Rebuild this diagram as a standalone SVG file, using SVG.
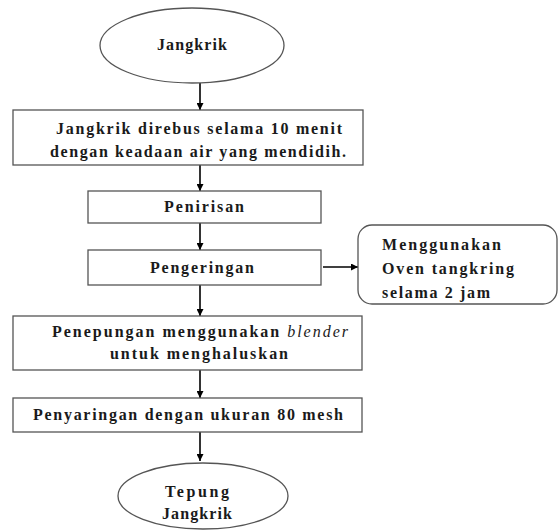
<svg xmlns="http://www.w3.org/2000/svg" width="558" height="530" viewBox="0 0 558 530">
<defs>
<marker id="ah" viewBox="0 0 10 10" refX="10" refY="5" markerWidth="7" markerHeight="7" orient="auto" markerUnits="userSpaceOnUse">
<path d="M0,0 L10,5 L0,10 z" fill="#000"/>
</marker>
<style>
.shape{fill:#fff;stroke:#555;stroke-width:1.3}
.t{font-weight:bold;font-size:16px;fill:#1a1a1a}
.c{text-anchor:middle}
.conn{stroke:#000;stroke-width:1.6;fill:none;marker-end:url(#ah)}
</style>
</defs>
<rect width="558" height="530" fill="#fff"/>
<g id="connectors">
<line class="conn" x1="200" y1="83" x2="200" y2="110"/>
<line class="conn" x1="200" y1="165" x2="200" y2="191"/>
<line class="conn" x1="200" y1="223" x2="200" y2="250"/>
<line class="conn" x1="200" y1="285" x2="200" y2="316"/>
<line class="conn" x1="200" y1="370" x2="200" y2="398"/>
<line class="conn" x1="200" y1="432" x2="200" y2="461"/>
<line class="conn" x1="323" y1="267" x2="358" y2="267"/>
</g>
<g font-family="Liberation Serif, Times New Roman, serif">
<g id="n1">
<ellipse class="shape" cx="192" cy="45.5" rx="92" ry="37.5"/>
<text class="t c" x="192" y="50" textLength="70" lengthAdjust="spacing">Jangkrik</text>
</g>
<g id="n2">
<rect class="shape" x="13" y="110" width="350" height="55"/>
<text class="t c" x="199" y="134" textLength="286" lengthAdjust="spacing">Jangkrik direbus selama 10 menit</text>
<text class="t c" x="198" y="157" textLength="296" lengthAdjust="spacing">dengan keadaan air yang mendidih.</text>
</g>
<g id="n3">
<rect class="shape" x="88" y="191" width="233" height="32"/>
<text class="t c" x="204" y="212" textLength="80" lengthAdjust="spacing">Penirisan</text>
</g>
<g id="n4">
<rect class="shape" x="88" y="250" width="233" height="35"/>
<text class="t c" x="202" y="273" textLength="104" lengthAdjust="spacing">Pengeringan</text>
</g>
<g id="n5">
<rect class="shape" x="358" y="225" width="199" height="79" rx="14" ry="14"/>
<text class="t" x="382" y="250" font-size="17" textLength="119" lengthAdjust="spacing">Menggunakan</text>
<text class="t" x="382" y="274" font-size="17" textLength="132" lengthAdjust="spacing">Oven tangkring</text>
<text class="t" x="382" y="298" font-size="17" textLength="108" lengthAdjust="spacing">selama 2 jam</text>
</g>
<g id="n6">
<rect class="shape" x="13" y="316" width="349" height="54"/>
<text class="t c" x="200" y="337" textLength="296" lengthAdjust="spacing">Penepungan menggunakan <tspan font-style="italic" font-weight="normal">blender</tspan></text>
<text class="t c" x="199" y="359" textLength="178" lengthAdjust="spacing">untuk menghaluskan</text>
</g>
<g id="n7">
<rect class="shape" x="13" y="398" width="349" height="34"/>
<text class="t c" x="188" y="420" textLength="310" lengthAdjust="spacing">Penyaringan dengan ukuran 80 mesh</text>
</g>
<g id="n8">
<ellipse class="shape" cx="203" cy="496" rx="85" ry="33"/>
<text class="t c" x="197" y="497" textLength="64" lengthAdjust="spacing">Tepung</text>
<text class="t c" x="197" y="519" textLength="70" lengthAdjust="spacing">Jangkrik</text>
</g>
</g>
</svg>
